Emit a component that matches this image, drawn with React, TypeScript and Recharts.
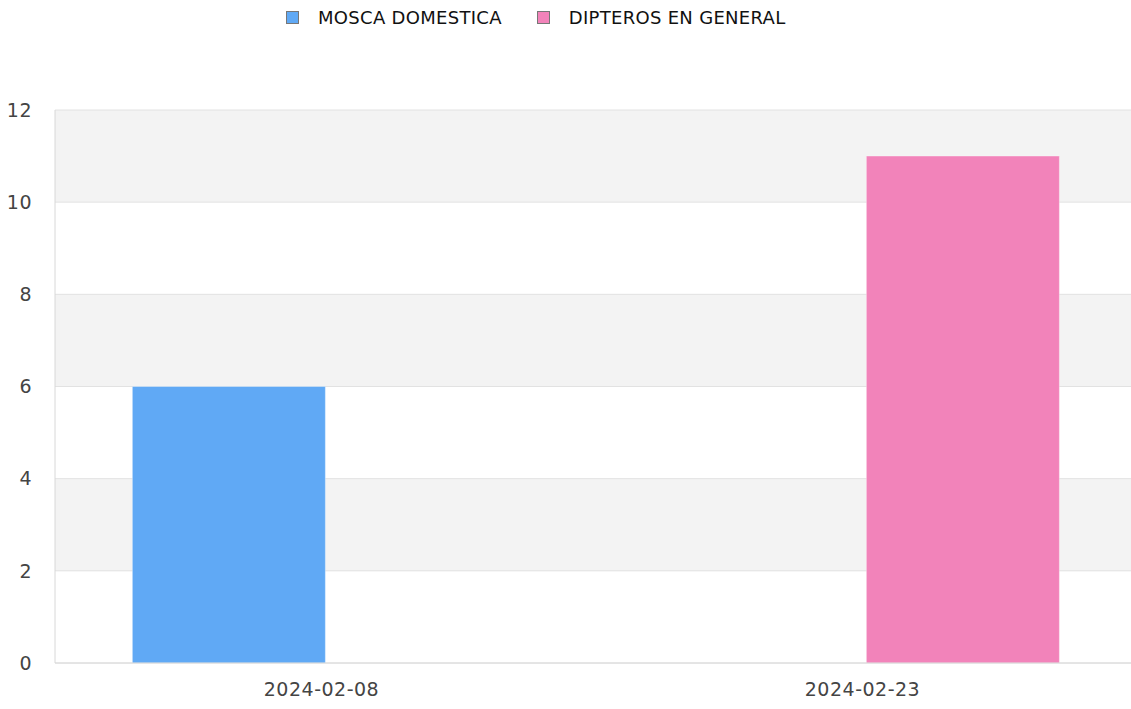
import React from 'react'
import {
  BarChart,
  Bar,
  XAxis,
  YAxis,
  CartesianGrid,
  Legend,
} from 'recharts'

const dates = ['2024-02-08', '2024-02-23']
const moscaDomestica = [6, 0]
const dipterosGeneral = [0, 11]
const yTicks = [0, 2, 4, 6, 8, 10, 12]

const series = [
  { key: 'mosca', name: 'MOSCA DOMESTICA', color: '#60a9f5' },
  { key: 'dipteros', name: 'DIPTEROS EN GENERAL', color: '#f283ba' },
]

const data = dates.map((date, i) => ({
  date,
  mosca: moscaDomestica[i],
  dipteros: dipterosGeneral[i],
}))

const font = '"DejaVu Sans", sans-serif'
const tickStyle = { fill: '#444', fontFamily: font, fontSize: 19, letterSpacing: 0.5 }

function LegendContent() {
  return (
    <div
      style={{
        display: 'flex',
        alignItems: 'center',
        height: 30,
        boxSizing: 'border-box',
        paddingLeft: 286,
        paddingTop: 4,
        fontFamily: font,
        fontSize: 18,
        color: '#111',
      }}
    >
      {series.map((s) => (
        <div
          key={s.key}
          style={{ display: 'flex', alignItems: 'center', marginRight: 35 }}
        >
          <span
            style={{
              display: 'inline-block',
              width: 11,
              height: 11,
              background: s.color,
              border: '1px solid #777',
              marginRight: 19,
            }}
          />
          <span style={{ letterSpacing: 0.3 }}>{s.name}</span>
        </div>
      ))}
    </div>
  )
}

export default function App() {
  return (
    <div style={{ position: 'absolute', left: 0, top: 0, width: 1131, height: 709, overflow: 'hidden', background: '#fff' }}>
      <BarChart
        width={1131}
        height={709}
        data={data}
        margin={{ top: 80, right: -6, bottom: 0, left: 0 }}
        barCategoryGap="14.3%"
        barGap={0}
      >
        <CartesianGrid
          vertical={false}
          stroke="#e2e2e2"
          horizontalFill={['#f3f3f3', '#ffffff']}
        />
        <XAxis
          dataKey="date"
          height={46}
          tickSize={0}
          tickMargin={20}
          stroke="#d8d8d8"
          tick={{ ...tickStyle, dx: -4 }}
        />
        <YAxis
          width={55}
          domain={[0, 12]}
          ticks={yTicks}
          tickSize={0}
          tickMargin={23}
          stroke="#d8d8d8"
          tick={tickStyle}
        />
        <Legend
          verticalAlign="top"
          wrapperStyle={{ top: 0, left: 0, width: 1131 }}
          content={() => <LegendContent />}
        />
        {series.map((s) => (
          <Bar
            key={s.key}
            dataKey={s.key}
            name={s.name}
            fill={s.color}
            stroke="rgba(255,255,255,0.35)"
            isAnimationActive={false}
          />
        ))}
      </BarChart>
    </div>
  )
}
